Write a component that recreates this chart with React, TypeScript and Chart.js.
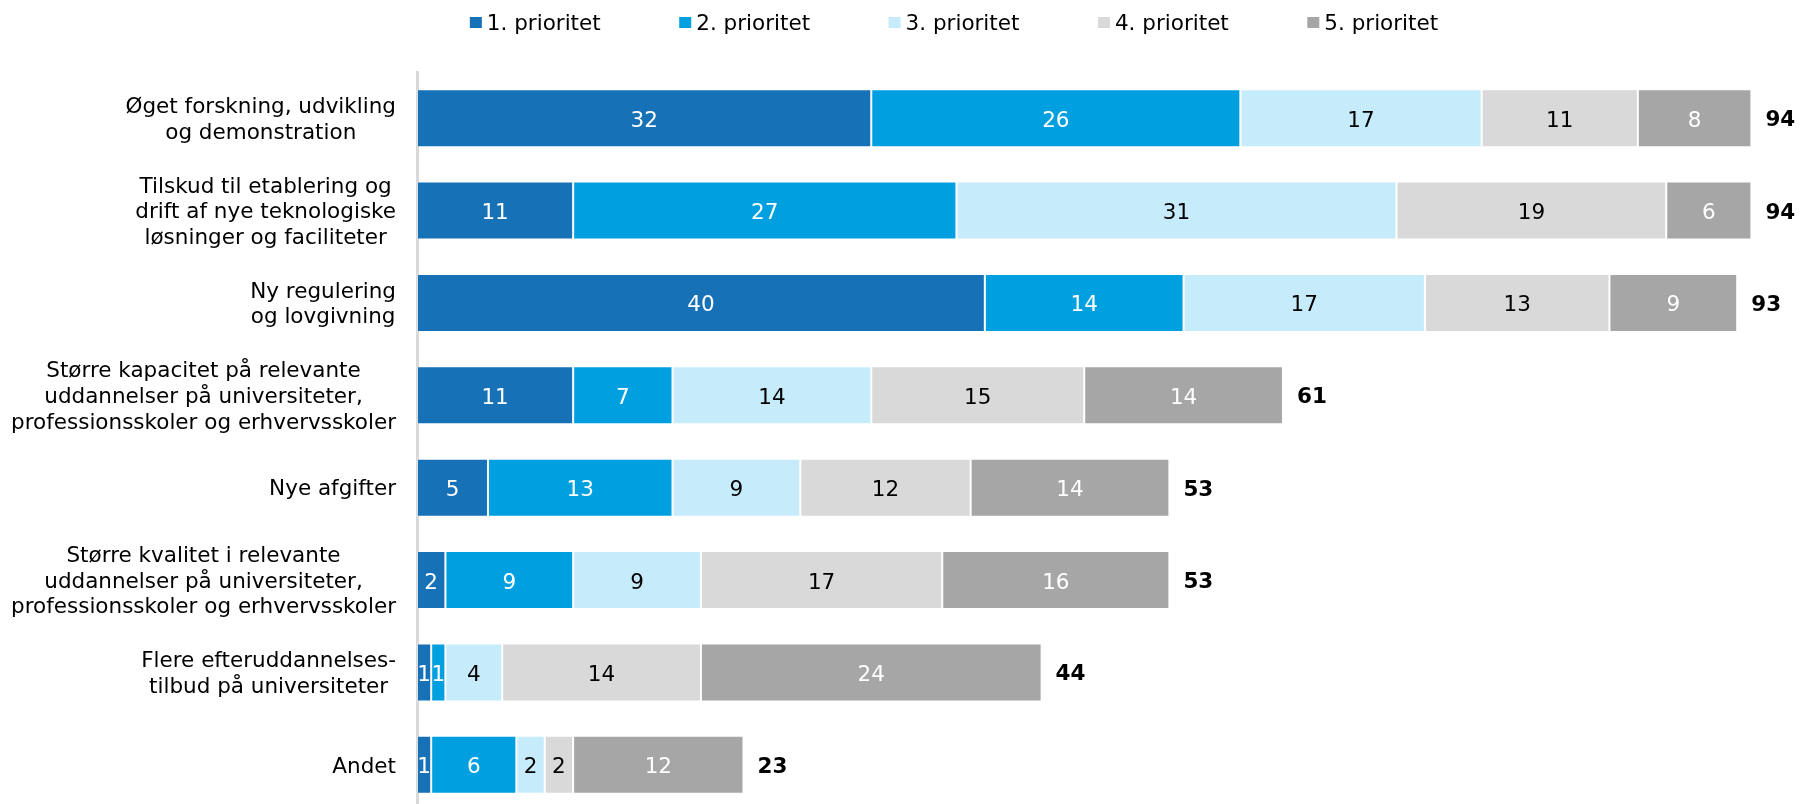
import React, { useEffect, useRef } from "react";
import { Chart, registerables } from "chart.js";

Chart.register(...registerables);

// ---------- data ----------
const categories: string[][] = [
  ["Øget forskning, udvikling", "og demonstration"],
  ["Tilskud til etablering og", "drift af nye teknologiske", "løsninger og faciliteter"],
  ["Ny regulering", "og lovgivning"],
  ["Større kapacitet på relevante", "uddannelser på universiteter,", "professionsskoler og erhvervsskoler"],
  ["Nye afgifter"],
  ["Større kvalitet i relevante", "uddannelser på universiteter,", "professionsskoler og erhvervsskoler"],
  ["Flere efteruddannelses-", "tilbud på universiteter"],
  ["Andet"],
];

const prioritet1 = [32, 11, 40, 11, 5, 2, 1, 1];
const prioritet2 = [26, 27, 14, 7, 13, 9, 1, 6];
const prioritet3 = [17, 31, 17, 14, 9, 9, 4, 2];
const prioritet4 = [11, 19, 13, 15, 12, 17, 14, 2];
const prioritet5 = [8, 6, 9, 14, 14, 16, 24, 12];

const seriesNames = ["1. prioritet", "2. prioritet", "3. prioritet", "4. prioritet", "5. prioritet"];
const seriesValues = [prioritet1, prioritet2, prioritet3, prioritet4, prioritet5];

// ---------- style ----------
const seriesColors = ["#1771B7", "#009FE0", "#C6ECFC", "#D9D9D9", "#A6A6A6"];
const valueColors = ["#FFFFFF", "#FFFFFF", "#000000", "#000000", "#FFFFFF"];
const FONT_FAMILY = '"DejaVu Sans", Verdana, sans-serif';
const FONT_SIZE = 21.5;
const LINE_HEIGHT = 25.7;

const categoryLabelsPlugin = {
  id: "categoryLabels",
  afterDraw(chart: any) {
    const ctx = chart.ctx;
    const yScale = chart.scales.y;
    const rightX = chart.chartArea.left - 21;
    ctx.save();
    ctx.font = `${FONT_SIZE}px ${FONT_FAMILY}`;
    ctx.fillStyle = "#000000";
    ctx.textAlign = "center";
    ctx.textBaseline = "alphabetic";
    categories.forEach((lines, i) => {
      const cy = yScale.getPixelForValue(i);
      const blockW = Math.max(...lines.map((l) => ctx.measureText(l).width));
      const cx = rightX - blockW / 2;
      lines.forEach((line, j) => {
        const y = cy + (j - (lines.length - 1) / 2) * LINE_HEIGHT + 7.7;
        ctx.fillText(line, cx, y);
      });
    });
    ctx.restore();
  },
};

const valueLabelsPlugin = {
  id: "valueLabels",
  afterDatasetsDraw(chart: any) {
    const ctx = chart.ctx;
    ctx.save();
    ctx.textAlign = "center";
    ctx.textBaseline = "alphabetic";
    ctx.font = `${FONT_SIZE}px ${FONT_FAMILY}`;
    chart.data.datasets.forEach((ds: any, di: number) => {
      const meta = chart.getDatasetMeta(di);
      meta.data.forEach((bar: any, i: number) => {
        const v = ds.data[i];
        const cx = (bar.x + bar.base) / 2;
        ctx.fillStyle = valueColors[di];
        ctx.fillText(String(v), cx, bar.y + 8.5);
      });
    });
    // totals
    const lastMeta = chart.getDatasetMeta(chart.data.datasets.length - 1);
    ctx.textAlign = "left";
    ctx.fillStyle = "#000000";
    ctx.font = `bold ${FONT_SIZE}px ${FONT_FAMILY}`;
    lastMeta.data.forEach((bar: any, i: number) => {
      const total = seriesValues.reduce((s, arr) => s + arr[i], 0);
      ctx.fillText(String(total), bar.x + 14, bar.y + 8);
    });
    ctx.restore();
  },
};

const legendPlugin = {
  id: "customLegend",
  afterDraw(chart: any) {
    const ctx = chart.ctx;
    ctx.save();
    ctx.font = `${FONT_SIZE}px ${FONT_FAMILY}`;
    ctx.textBaseline = "alphabetic";
    ctx.textAlign = "left";
    const boxW = 12;
    const boxH = 11;
    const gapText = 5;
    const gapItem = 78.5;
    const widths = chart.data.datasets.map((ds: any) => boxW + gapText + ctx.measureText(ds.label).width);
    const total = widths.reduce((a: number, b: number) => a + b, 0) + gapItem * (widths.length - 1);
    let x = 954 - total / 2;
    chart.data.datasets.forEach((ds: any, di: number) => {
      ctx.fillStyle = ds.backgroundColor;
      ctx.fillRect(x, 17, boxW, boxH);
      ctx.fillStyle = "#000000";
      ctx.fillText(ds.label, x + boxW + gapText, 30);
      x += widths[di] + gapItem;
    });
    ctx.restore();
  },
};

export default function App() {
  const canvasRef = useRef<HTMLCanvasElement | null>(null);

  useEffect(() => {
    const canvas = canvasRef.current;
    if (!canvas) return;
    const chart = new Chart(canvas, {
      type: "bar",
      data: {
        labels: categories,
        datasets: seriesNames.map((name, i) => ({
          label: name,
          data: seriesValues[i],
          backgroundColor: seriesColors[i],
          borderColor: "rgba(255,255,255,0.12)",
          borderWidth: 1,
          borderSkipped: false,
          categoryPercentage: 1,
          barPercentage: 0.628,
        })),
      },
      options: {
        indexAxis: "y",
        responsive: false,
        animation: false,
        layout: {
          padding: { left: 417, top: 72, right: 9, bottom: 0 },
        },
        plugins: {
          legend: { display: false },
          tooltip: { enabled: false },
        },
        scales: {
          x: {
            stacked: true,
            display: false,
            min: 0,
            max: 97,
          },
          y: {
            stacked: true,
            display: true,
            ticks: { display: false },
            grid: { display: false, drawTicks: false },
            border: { display: true, color: "#D9D9D9", width: 3 },
            afterFit: (scale: any) => {
              scale.width = 0;
            },
          },
        },
      },
      plugins: [categoryLabelsPlugin, valueLabelsPlugin, legendPlugin],
    });
    return () => chart.destroy();
  }, []);

  return (
    <div style={{ position: "absolute", left: 0, top: 0, width: 1803, height: 804, overflow: "hidden", background: "#FFFFFF" }}>
      <canvas ref={canvasRef} width={1803} height={811} style={{ display: "block" }} />
    </div>
  );
}
